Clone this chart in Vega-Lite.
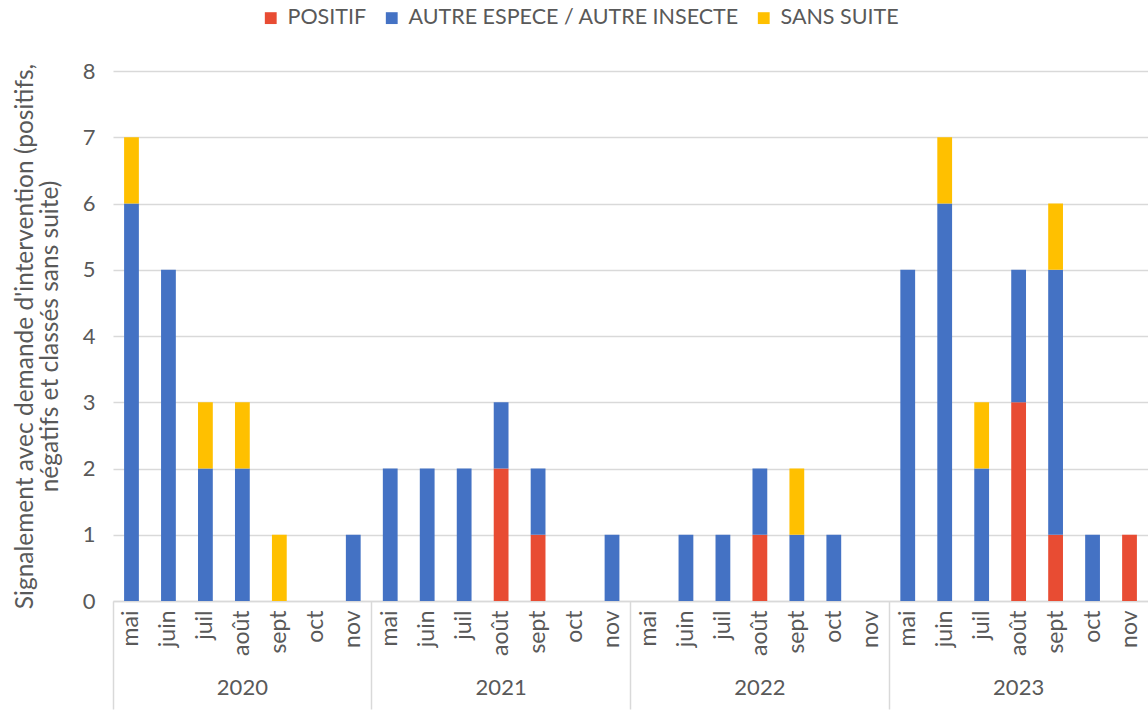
{
  "$schema": "https://vega.github.io/schema/vega-lite/v6.json",
  "width": 1148,
  "height": 713,
  "autosize": {"type": "fit", "contains": "padding"},
  "padding": {"left": 12, "top": 60, "right": 0, "bottom": 3},
  "background": "white",
  "config": {
    "view": {"stroke": null},
    "font": "Lato",
    "axis": {"labelFont": "Lato", "titleFont": "Lato", "labelColor": "#595959", "titleColor": "#595959"},
    "legend": {"labelFont": "Lato"}
  },
  "data": {
    "values": [
      {"p": "2020-mai", "cat": "AUTRE ESPECE / AUTRE INSECTE", "k": 2, "n": 6},
      {"p": "2020-mai", "cat": "SANS SUITE", "k": 3, "n": 1},
      {"p": "2020-juin", "cat": "AUTRE ESPECE / AUTRE INSECTE", "k": 2, "n": 5},
      {"p": "2020-juil", "cat": "AUTRE ESPECE / AUTRE INSECTE", "k": 2, "n": 2},
      {"p": "2020-juil", "cat": "SANS SUITE", "k": 3, "n": 1},
      {"p": "2020-août", "cat": "AUTRE ESPECE / AUTRE INSECTE", "k": 2, "n": 2},
      {"p": "2020-août", "cat": "SANS SUITE", "k": 3, "n": 1},
      {"p": "2020-sept", "cat": "SANS SUITE", "k": 3, "n": 1},
      {"p": "2020-nov", "cat": "AUTRE ESPECE / AUTRE INSECTE", "k": 2, "n": 1},
      {"p": "2021-mai", "cat": "AUTRE ESPECE / AUTRE INSECTE", "k": 2, "n": 2},
      {"p": "2021-juin", "cat": "AUTRE ESPECE / AUTRE INSECTE", "k": 2, "n": 2},
      {"p": "2021-juil", "cat": "AUTRE ESPECE / AUTRE INSECTE", "k": 2, "n": 2},
      {"p": "2021-août", "cat": "POSITIF", "k": 1, "n": 2},
      {"p": "2021-août", "cat": "AUTRE ESPECE / AUTRE INSECTE", "k": 2, "n": 1},
      {"p": "2021-sept", "cat": "POSITIF", "k": 1, "n": 1},
      {"p": "2021-sept", "cat": "AUTRE ESPECE / AUTRE INSECTE", "k": 2, "n": 1},
      {"p": "2021-nov", "cat": "AUTRE ESPECE / AUTRE INSECTE", "k": 2, "n": 1},
      {"p": "2022-juin", "cat": "AUTRE ESPECE / AUTRE INSECTE", "k": 2, "n": 1},
      {"p": "2022-juil", "cat": "AUTRE ESPECE / AUTRE INSECTE", "k": 2, "n": 1},
      {"p": "2022-août", "cat": "POSITIF", "k": 1, "n": 1},
      {"p": "2022-août", "cat": "AUTRE ESPECE / AUTRE INSECTE", "k": 2, "n": 1},
      {"p": "2022-sept", "cat": "AUTRE ESPECE / AUTRE INSECTE", "k": 2, "n": 1},
      {"p": "2022-sept", "cat": "SANS SUITE", "k": 3, "n": 1},
      {"p": "2022-oct", "cat": "AUTRE ESPECE / AUTRE INSECTE", "k": 2, "n": 1},
      {"p": "2023-mai", "cat": "AUTRE ESPECE / AUTRE INSECTE", "k": 2, "n": 5},
      {"p": "2023-juin", "cat": "AUTRE ESPECE / AUTRE INSECTE", "k": 2, "n": 6},
      {"p": "2023-juin", "cat": "SANS SUITE", "k": 3, "n": 1},
      {"p": "2023-juil", "cat": "AUTRE ESPECE / AUTRE INSECTE", "k": 2, "n": 2},
      {"p": "2023-juil", "cat": "SANS SUITE", "k": 3, "n": 1},
      {"p": "2023-août", "cat": "POSITIF", "k": 1, "n": 3},
      {"p": "2023-août", "cat": "AUTRE ESPECE / AUTRE INSECTE", "k": 2, "n": 2},
      {"p": "2023-sept", "cat": "POSITIF", "k": 1, "n": 1},
      {"p": "2023-sept", "cat": "AUTRE ESPECE / AUTRE INSECTE", "k": 2, "n": 4},
      {"p": "2023-sept", "cat": "SANS SUITE", "k": 3, "n": 1},
      {"p": "2023-oct", "cat": "AUTRE ESPECE / AUTRE INSECTE", "k": 2, "n": 1},
      {"p": "2023-nov", "cat": "POSITIF", "k": 1, "n": 1}
    ]
  },
  "resolve": {"axis": {"x": "independent"}},
  "layer": [
    {
      "mark": {"type": "bar", "width": {"band": 0.4}},
      "encoding": {
        "x": {
          "field": "p", "type": "nominal",
          "scale": {
            "domain": ["2020-mai","2020-juin","2020-juil","2020-août","2020-sept","2020-oct","2020-nov",
                       "2021-mai","2021-juin","2021-juil","2021-août","2021-sept","2021-oct","2021-nov",
                       "2022-mai","2022-juin","2022-juil","2022-août","2022-sept","2022-oct","2022-nov",
                       "2023-mai","2023-juin","2023-juil","2023-août","2023-sept","2023-oct","2023-nov"],
            "paddingInner": 0, "paddingOuter": 0
          },
          "axis": {
            "orient": "bottom", "title": null,
            "labelExpr": "split(datum.value, '-')[1]",
            "labelAngle": -90, "labelPadding": 9, "labelFontSize": 23,
            "ticks": false, "tickSize": 0, "grid": false,
            "domain": true, "domainColor": "#D9D9D9", "domainWidth": 1.5
          }
        },
        "y": {
          "field": "n", "type": "quantitative", "stack": "zero",
          "scale": {"domain": [0, 8], "nice": false},
          "axis": {
            "values": [0,1,2,3,4,5,6,7,8],
            "title": ["Signalement avec demande d'intervention (positifs,", "négatifs et classés sans suite)"],
            "titleFontSize": 24.5, "titleFontWeight": "normal", "titleLineHeight": 25, "titlePadding": 20,
            "labelFontSize": 22, "labelPadding": 18,
            "ticks": false, "tickSize": 0, "domain": false,
            "grid": true, "gridColor": "#D9D9D9", "gridWidth": 1.5
          }
        },
        "color": {
          "field": "cat", "type": "nominal",
          "scale": {
            "domain": ["POSITIF", "AUTRE ESPECE / AUTRE INSECTE", "SANS SUITE"],
            "range": ["#E84C33", "#4472C4", "#FFC000"]
          },
          "legend": {
            "orient": "none", "legendX": 147, "legendY": -64,
            "direction": "horizontal", "title": null,
            "symbolType": "square", "symbolSize": 140, "symbolStrokeWidth": 0,
            "labelFontSize": 21.5, "labelColor": "#595959", "labelOffset": 6, "labelLimit": 600,
            "columnPadding": 14
          }
        },
        "order": {"field": "k", "type": "quantitative"}
      }
    },
    {
      "mark": {"type": "point", "opacity": 0},
      "encoding": {
        "x": {
          "field": "p", "type": "nominal",
          "axis": {
            "orient": "bottom", "title": null,
            "values": ["2020-août", "2021-août", "2022-août", "2023-août"],
            "labelExpr": "split(datum.value, '-')[0]",
            "labelAngle": 0, "labelFontSize": 22, "labelPadding": 12, "offset": 64,
            "ticks": false, "tickSize": 0, "grid": false, "domain": false
          }
        }
      }
    },
    {
      "mark": {"type": "point", "opacity": 0},
      "encoding": {
        "x": {
          "field": "p", "type": "nominal",
          "axis": {
            "orient": "bottom", "title": null,
            "values": ["2020-mai", "2021-mai", "2022-mai", "2023-mai"],
            "bandPosition": 0, "labels": false,
            "ticks": true, "tickSize": 108, "tickColor": "#D9D9D9", "tickWidth": 1.5,
            "grid": false, "domain": false
          }
        }
      }
    }
  ]
}
